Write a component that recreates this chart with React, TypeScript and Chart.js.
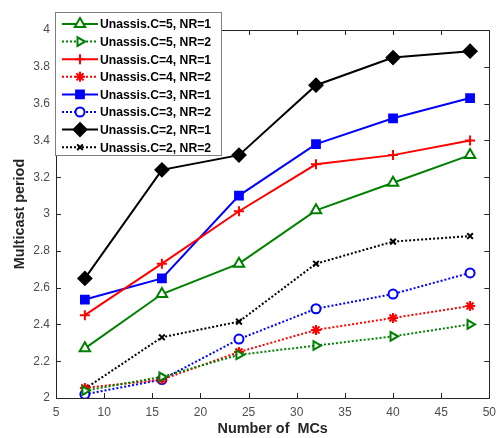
import React, { useEffect, useRef } from "react";
import { Chart, registerables } from "chart.js";
import { drawPoint } from "chart.js/helpers";

Chart.register(...registerables);

const mcs = [8, 16, 24, 32, 40, 48];
const c5nr1 = [2.27, 2.565, 2.73, 3.02, 3.17, 3.32];
const c5nr2 = [2.04, 2.115, 2.235, 2.285, 2.335, 2.4];
const c4nr1 = [2.45, 2.73, 3.015, 3.27, 3.32, 3.4];
const c4nr2 = [2.055, 2.1, 2.25, 2.37, 2.435, 2.5];
const c3nr1 = [2.535, 2.65, 3.1, 3.38, 3.52, 3.63];
const c3nr2 = [2.02, 2.1, 2.32, 2.485, 2.565, 2.68];
const c2nr1 = [2.65, 3.24, 3.32, 3.7, 3.85, 3.885];
const c2nr2 = [2.05, 2.33, 2.415, 2.73, 2.85, 2.88];

const labels = [
  "Unassis.C=5, NR=1",
  "Unassis.C=5, NR=2",
  "Unassis.C=4, NR=1",
  "Unassis.C=4, NR=2",
  "Unassis.C=3, NR=1",
  "Unassis.C=3, NR=2",
  "Unassis.C=2, NR=1",
  "Unassis.C=2, NR=2",
];

const GREEN = "#008000";
const RED = "#ff0000";
const BLUE = "#0000ff";
const BLACK = "#000000";
const AXIS = "#262626";
const TICK_TEXT = "#4d4d4d";

type Style = {
  color: string;
  dashed: boolean;
  pointStyle: string;
  radius: number;
  filled: boolean;
  rotation?: number;
};

const styles: Style[] = [
  { color: GREEN, dashed: false, pointStyle: "triangle", radius: 6, filled: false },
  { color: GREEN, dashed: true, pointStyle: "triangle", radius: 5, filled: false, rotation: 90 },
  { color: RED, dashed: false, pointStyle: "cross", radius: 5, filled: false },
  { color: RED, dashed: true, pointStyle: "star", radius: 5, filled: true },
  { color: BLUE, dashed: false, pointStyle: "rect", radius: 5.5, filled: true },
  { color: BLUE, dashed: true, pointStyle: "circle", radius: 4.5, filled: false },
  { color: BLACK, dashed: false, pointStyle: "rectRot", radius: 6.5, filled: true },
  { color: BLACK, dashed: true, pointStyle: "crossRot", radius: 4, filled: false },
];

const seriesValues = [c5nr1, c5nr2, c4nr1, c4nr2, c3nr1, c3nr2, c2nr1, c2nr2];

const boxPlugin = {
  id: "matlabBox",
  afterDraw(chart: any) {
    const { ctx, chartArea } = chart;
    const xs = chart.scales.x;
    const ys = chart.scales.y;
    ctx.save();
    ctx.strokeStyle = AXIS;
    ctx.lineWidth = 1;
    ctx.strokeRect(
      Math.round(chartArea.left) + 0.5,
      Math.round(chartArea.top) + 0.5,
      Math.round(chartArea.right - chartArea.left),
      Math.round(chartArea.bottom - chartArea.top)
    );
    const tl = 5;
    ctx.beginPath();
    xs.ticks.forEach((t: any) => {
      const px = Math.round(xs.getPixelForValue(t.value)) + 0.5;
      ctx.moveTo(px, chartArea.bottom);
      ctx.lineTo(px, chartArea.bottom - tl);
      ctx.moveTo(px, chartArea.top);
      ctx.lineTo(px, chartArea.top + tl);
    });
    ys.ticks.forEach((t: any) => {
      const py = Math.round(ys.getPixelForValue(t.value)) + 0.5;
      ctx.moveTo(chartArea.left, py);
      ctx.lineTo(chartArea.left + tl, py);
      ctx.moveTo(chartArea.right, py);
      ctx.lineTo(chartArea.right - tl, py);
    });
    ctx.stroke();

    // legend
    const lx = 55.5;
    const ly = 12.5;
    const lw = 166;
    const lh = 143;
    ctx.fillStyle = "#ffffff";
    ctx.fillRect(lx, ly, lw, lh);
    ctx.strokeStyle = "#7f7f7f";
    ctx.strokeRect(lx, ly, lw, lh);
    chart.data.datasets.forEach((ds: any, i: number) => {
      const st = styles[i];
      const cy = 24 + i * 17.6;
      ctx.save();
      ctx.strokeStyle = st.color;
      ctx.lineWidth = 2;
      ctx.setLineDash(st.dashed ? [2, 2] : []);
      ctx.beginPath();
      ctx.moveTo(62, cy);
      ctx.lineTo(98, cy);
      ctx.stroke();
      ctx.setLineDash([]);
      ctx.fillStyle = st.filled ? st.color : "#ffffff";
      ctx.strokeStyle = st.color;
      ctx.lineWidth = 2;
      drawPoint(
        ctx,
        {
          pointStyle: st.pointStyle as any,
          radius: st.radius,
          rotation: st.rotation || 0,
          borderWidth: 2,
        } as any,
        80,
        cy
      );
      ctx.restore();
      ctx.fillStyle = "#000000";
      ctx.font = "bold 12.2px 'Liberation Sans', Arial, sans-serif";
      ctx.textAlign = "left";
      ctx.textBaseline = "middle";
      ctx.fillText(ds.label, 100, cy + 1);
    });
    ctx.restore();
  },
};

export default function App() {
  const ref = useRef<HTMLCanvasElement | null>(null);
  useEffect(() => {
    document.body.style.margin = "0";
    const canvas = ref.current!;
    const datasets = seriesValues.map((vals, i) => {
      const st = styles[i];
      return {
        label: labels[i],
        data: mcs.map((x, j) => ({ x, y: vals[j] })),
        borderColor: st.color,
        backgroundColor: st.filled ? st.color : "#ffffff",
        borderWidth: 2,
        borderDash: st.dashed ? [2, 2] : [],
        pointStyle: st.pointStyle as any,
        pointRadius: st.radius,
        pointRotation: st.rotation || 0,
        pointBorderWidth: 2,
        pointBorderColor: st.color,
        pointBackgroundColor: st.filled ? st.color : "#ffffff",
        tension: 0,
        fill: false,
      };
    });
    const font = "'Liberation Sans', Arial, sans-serif";
    const chart = new Chart(canvas, {
      type: "line",
      data: { datasets: datasets as any },
      options: {
        animation: false,
        responsive: false,
        events: [],
        layout: { padding: { top: 30, right: 11, left: 0, bottom: 0 } },
        plugins: { legend: { display: false }, tooltip: { enabled: false } },
        scales: {
          x: {
            type: "linear",
            min: 5,
            max: 50,
            grid: { display: false, drawTicks: false },
            border: { display: false },
            ticks: {
              stepSize: 5,
              padding: 7,
              color: TICK_TEXT,
              font: { family: font, size: 12 },
              maxRotation: 0,
            },
            title: {
              display: true,
              text: "Number of  MCs",
              color: "#262626",
              font: { family: font, size: 14.4, weight: "bold" },
              padding: { top: 0, bottom: 0 },
            },
            afterFit(scale: any) {
              scale.height = 40;
            },
          },
          y: {
            type: "linear",
            min: 2,
            max: 4,
            grid: { display: false, drawTicks: false },
            border: { display: false },
            ticks: {
              stepSize: 0.2,
              padding: 6,
              color: TICK_TEXT,
              font: { family: font, size: 12 },
              callback: (v: any) => String(Number(Number(v).toFixed(1))),
            },
            title: {
              display: true,
              text: "Multicast period",
              color: "#262626",
              font: { family: font, size: 14.4, weight: "bold" },
              padding: { top: 11, bottom: 0 },
            },
            afterFit(scale: any) {
              scale.width = 56;
            },
          },
        },
      },
      plugins: [boxPlugin],
    });
    return () => chart.destroy();
  }, []);
  return (
    <div style={{ width: 503, height: 438, background: "#fff" }}>
      <canvas ref={ref} width={503} height={438} />
    </div>
  );
}
